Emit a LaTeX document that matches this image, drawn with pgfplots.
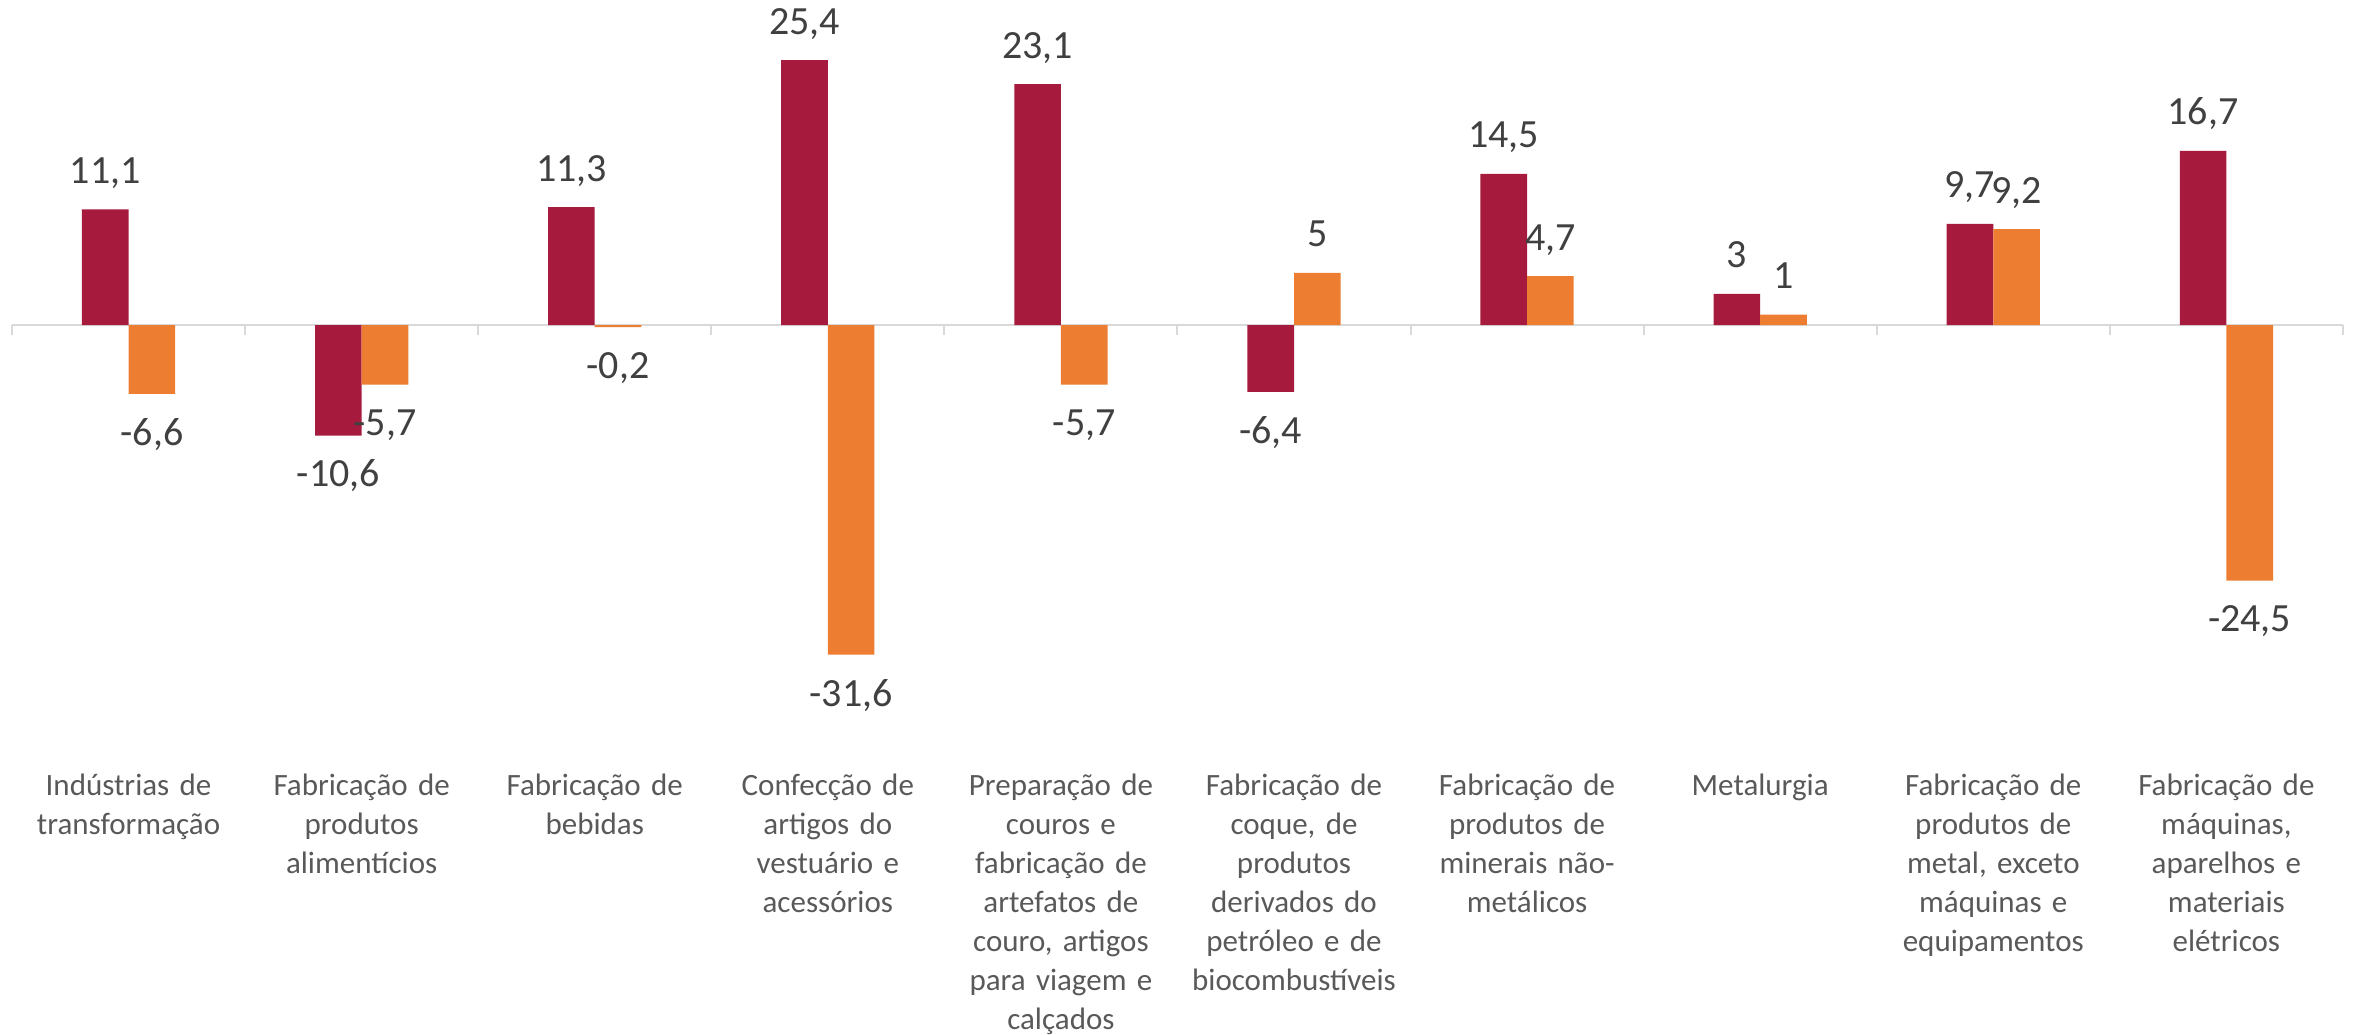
\documentclass[border=0pt]{standalone}
\usepackage{pgfplots}
\pgfplotsset{compat=1.18}
\usepackage{fontspec}
\setmainfont{Carlito}
\definecolor{crim}{HTML}{A61A3D}
\definecolor{orng}{HTML}{ED7D31}
\definecolor{lbl}{HTML}{404040}
\definecolor{tlbl}{HTML}{595959}
\definecolor{zline}{HTML}{D9D9D9}
\begin{document}
\begin{tikzpicture}
\begin{axis}[
  scale only axis,
  width=699.3pt, height=224.4pt,
  xmin=-0.5, xmax=9.5, ymin=-41.7, ymax=30,
  clip=false,
  axis line style={draw=none},
  ytick=\empty,
  xtick={0,...,9},
  major tick length=0pt,
  xticklabels={
    {Indústrias de\\transformação},
    {Fabricação de\\produtos\\alimentícios},
    {Fabricação de\\bebidas},
    {Confecção de\\artigos do\\vestuário e\\acessórios},
    {Preparação de\\couros e\\fabricação de\\artefatos de\\couro, artigos\\para viagem e\\calçados},
    {Fabricação de\\coque, de\\produtos\\derivados do\\petróleo e de\\biocombustíveis},
    {Fabricação de\\produtos de\\minerais não-\\metálicos},
    {Metalurgia},
    {Fabricação de\\produtos de\\metal, exceto\\máquinas e\\equipamentos},
    {Fabricação de\\máquinas,\\aparelhos e\\materiais\\elétricos}},
  xticklabel style={font=\fontsize{9.3}{11.7}\selectfont, text=tlbl, text width=70pt, align=center, anchor=north, inner sep=0pt, yshift=-4pt, overlay},
  ybar=0pt,
  bar width=13.99pt,
  /pgf/number format/assume math mode=true,
  /pgf/number format/use comma,
  nodes near coords,
  nodes near coords align={vertical},
  every node near coord/.append style={font=\fontsize{12}{14}\selectfont, text=lbl, inner xsep=1pt, inner ysep=7.6pt, text height=7.6pt, text depth=0pt, overlay},
]
\draw[zline, line width=0.6pt] (axis cs:-0.5,0) -- (axis cs:9.5,0);
\pgfplotsinvokeforeach{-0.5,0.5,1.5,2.5,3.5,4.5,5.5,6.5,7.5,8.5,9.5}{
  \draw[zline, line width=0.6pt] (axis cs:#1,0) -- ++(0pt,-3pt);
}
\addplot[fill=crim, draw=none] coordinates {
  (0,11.1) (1,-10.6) (2,11.3) (3,25.4) (4,23.1) (5,-6.4) (6,14.5) (7,3) (8,9.7) (9,16.7)};
\addplot[fill=orng, draw=none] coordinates {
  (0,-6.6) (1,-5.7) (2,-0.2) (3,-31.6) (4,-5.7) (5,5) (6,4.7) (7,1) (8,9.2) (9,-24.5)};
\path (axis cs:-0.5515,31.16) (axis cs:9.569,-67.98);
\end{axis}
\end{tikzpicture}
\end{document}
